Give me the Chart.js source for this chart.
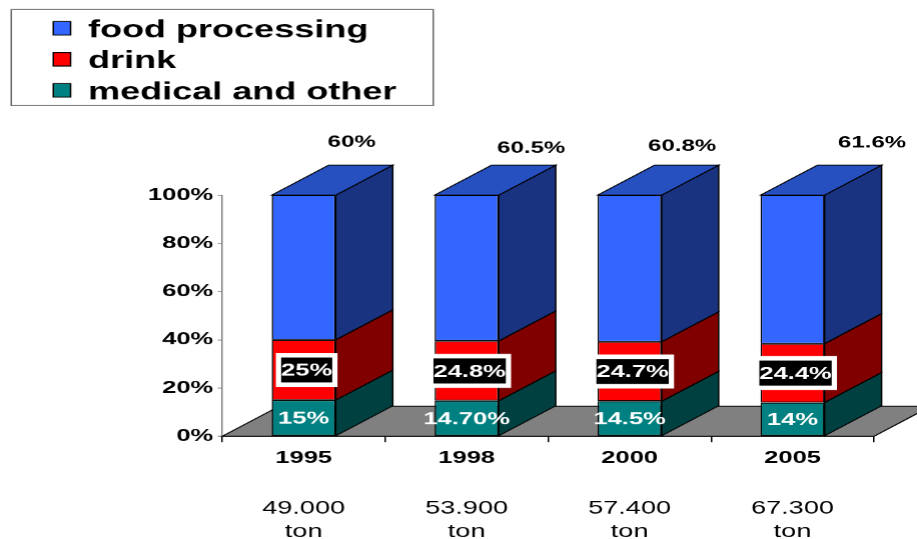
<!DOCTYPE html>
<html>
<head>
<meta charset="utf-8">
<title>Market share by sector</title>
<script src="https://cdn.jsdelivr.net/npm/chart.js@4.4.1/dist/chart.umd.min.js"></script>
<style>
  html, body { margin: 0; padding: 0; background: #fff; }
</style>
</head>
<body>
<!-- the picture is a 4:3 slide stretched sideways, so the canvas is drawn narrow and widened -->
<canvas id="chart" width="611" height="539" style="display:block; width:917px; height:539px;"></canvas>
<script>
// Data
const years = ['1995', '1998', '2000', '2005'];
const tonnage = [['49.000', 'ton'], ['53.900', 'ton'], ['57.400', 'ton'], ['67.300', 'ton']];
const medical = [15, 14.7, 14.5, 14];
const drink = [25, 24.8, 24.7, 24.4];
const food = [60, 60.5, 60.8, 61.6];
const medicalText = ['15%', '14.70%', '14.5%', '14%'];
const yTicks = [0, 20, 40, 60, 80, 100];

// 3D depth of the boxes (logical px)
const DEPTH_X = 38;
const DEPTH_Y = -30;
const FONT = '"Liberation Sans", Arial, sans-serif';

Chart.defaults.font.family = FONT;
Chart.defaults.color = '#000';

function face(ctx, pts, fill) {
    ctx.beginPath();
    ctx.moveTo(pts[0][0], pts[0][1]);
    for (let i = 1; i < pts.length; i++) ctx.lineTo(pts[i][0], pts[i][1]);
    ctx.closePath();
    ctx.fillStyle = fill;
    ctx.fill();
    ctx.stroke();
}

const floorPlugin = {
    id: 'floor3d',
    beforeDatasetsDraw(chart) {
        const { ctx, chartArea: a } = chart;
        ctx.save();
        ctx.strokeStyle = '#000';
        ctx.lineWidth = 1;
        face(ctx, [
            [a.left, a.bottom],
            [a.right, a.bottom],
            [a.right + DEPTH_X, a.bottom + DEPTH_Y],
            [a.left + DEPTH_X, a.bottom + DEPTH_Y]
        ], '#808080');
        ctx.restore();
    }
};

const boxPlugin = {
    id: 'box3d',
    afterDatasetsDraw(chart) {
        const ctx = chart.ctx;
        const last = chart.data.datasets.length - 1;
        ctx.save();
        ctx.strokeStyle = '#000';
        ctx.lineWidth = 1;
        chart.data.datasets.forEach((ds, d) => {
            chart.getDatasetMeta(d).data.forEach(bar => {
                const left = bar.x - bar.width / 2;
                const right = bar.x + bar.width / 2;
                const top = Math.min(bar.y, bar.base);
                const bottom = Math.max(bar.y, bar.base);
                face(ctx, [
                    [right, top],
                    [right + DEPTH_X, top + DEPTH_Y],
                    [right + DEPTH_X, bottom + DEPTH_Y],
                    [right, bottom]
                ], ds.sideColor);
                if (d === last) {
                    face(ctx, [
                        [left, top],
                        [left + DEPTH_X, top + DEPTH_Y],
                        [right + DEPTH_X, top + DEPTH_Y],
                        [right, top]
                    ], ds.topColor);
                }
            });
        });
        ctx.restore();
    }
};

const labelPlugin = {
    id: 'segmentLabels',
    afterDatasetsDraw(chart, args, opts) {
        const ctx = chart.ctx;
        ctx.save();
        ctx.font = 'bold 17px ' + FONT;
        ctx.textAlign = 'center';
        ctx.textBaseline = 'middle';

        // medical and other: plain white text
        chart.getDatasetMeta(0).data.forEach((bar, i) => {
            ctx.fillStyle = '#fff';
            ctx.fillText(medicalText[i], bar.x, (bar.y + bar.base) / 2 + 1);
        });

        // drink: white text on a black box with a white frame
        chart.getDatasetMeta(1).data.forEach((bar, i) => {
            const text = drink[i] + '%';
            const w = ctx.measureText(text).width;
            const x = bar.x + 2;
            const y = (bar.y + bar.base) / 2;
            ctx.fillStyle = '#fff';
            ctx.fillRect(x - w / 2 - 3.5, y - 17, w + 7, 34);
            ctx.fillStyle = '#000';
            ctx.fillRect(x - w / 2, y - 12.5, w, 25);
            ctx.fillStyle = '#fff';
            ctx.fillText(text, x, y + 1);
        });

        // food processing: black text above the box
        ctx.font = 'bold 16px ' + FONT;
        chart.getDatasetMeta(2).data.forEach((bar, i) => {
            ctx.fillStyle = '#000';
            ctx.fillText(food[i] + '%', bar.x + opts.shiftX[i], bar.y + opts.shiftY[i]);
        });
        ctx.restore();
    }
};

const legendBoxPlugin = {
    id: 'legendBox',
    afterDraw(chart) {
        const ctx = chart.ctx;
        ctx.save();
        ctx.strokeStyle = '#666';
        ctx.lineWidth = 1;
        ctx.strokeRect(7.5, 9.5, 281, 96);
        ctx.font = 'bold 24px ' + FONT;
        ctx.textAlign = 'left';
        ctx.textBaseline = 'alphabetic';
        chart.data.datasets.slice().reverse().forEach((ds, i) => {
            const base = 37 + i * 31;
            ctx.fillStyle = ds.backgroundColor;
            ctx.fillRect(35.5, base - 15.5, 11.5, 13.5);
            ctx.strokeStyle = '#000';
            ctx.strokeRect(35.5, base - 15.5, 11.5, 13.5);
            ctx.fillStyle = '#000';
            ctx.fillText(ds.label, 58.6, base);
        });
        ctx.restore();
    }
};

const barStyle = {
    borderColor: '#000',
    borderWidth: 1,
    borderSkipped: false,
    barPercentage: 0.393,
    categoryPercentage: 1
};

new Chart(document.getElementById('chart'), {
    type: 'bar',
    data: {
        labels: years,
        datasets: [
            Object.assign({ label: 'medical and other', data: medical, backgroundColor: '#008080', sideColor: '#004040' }, barStyle),
            Object.assign({ label: 'drink', data: drink, backgroundColor: '#ff0000', sideColor: '#800000' }, barStyle),
            Object.assign({ label: 'food processing', data: food, backgroundColor: '#3366ff', sideColor: '#1a3380', topColor: '#2650c0' }, barStyle)
        ]
    },
    plugins: [floorPlugin, boxPlugin, labelPlugin, legendBoxPlugin],
    options: {
        responsive: false,
        devicePixelRatio: 1.5,
        animation: false,
        layout: { padding: { top: 195, right: 29, left: 0, bottom: 0 } },
        plugins: {
            legend: { display: false },
            tooltip: { enabled: false },
            segmentLabels: {
                shiftX: [32, 43, 35, 53],
                shiftY: [-53, -47, -49, -52]
            }
        },
        scales: {
            x: {
                stacked: true,
                offset: true,
                border: { color: '#000' },
                grid: { offset: true, drawOnChartArea: false, tickLength: 6, color: '#000' },
                ticks: { font: { size: 17, weight: 'bold' }, padding: 6, maxRotation: 0 },
                afterFit: s => { s.height = 33; }
            },
            x2: {
                type: 'category',
                position: 'bottom',
                labels: tonnage,
                offset: true,
                border: { display: false },
                grid: { display: false, drawTicks: false },
                ticks: { font: { size: 18, lineHeight: 1.28 }, padding: 28, maxRotation: 0 },
                afterFit: s => { s.height = 70; }
            },
            y: {
                stacked: true,
                min: 0,
                max: 100,
                border: { color: '#808080' },
                grid: { drawOnChartArea: false, tickLength: 3, color: '#808080' },
                ticks: { font: { size: 17, weight: 'bold' }, padding: 3, callback: v => v + '%' },
                afterBuildTicks: s => { s.ticks = yTicks.map(v => ({ value: v })); },
                afterFit: s => { s.width = 148; }
            }
        }
    }
});
</script>
</body>
</html>
